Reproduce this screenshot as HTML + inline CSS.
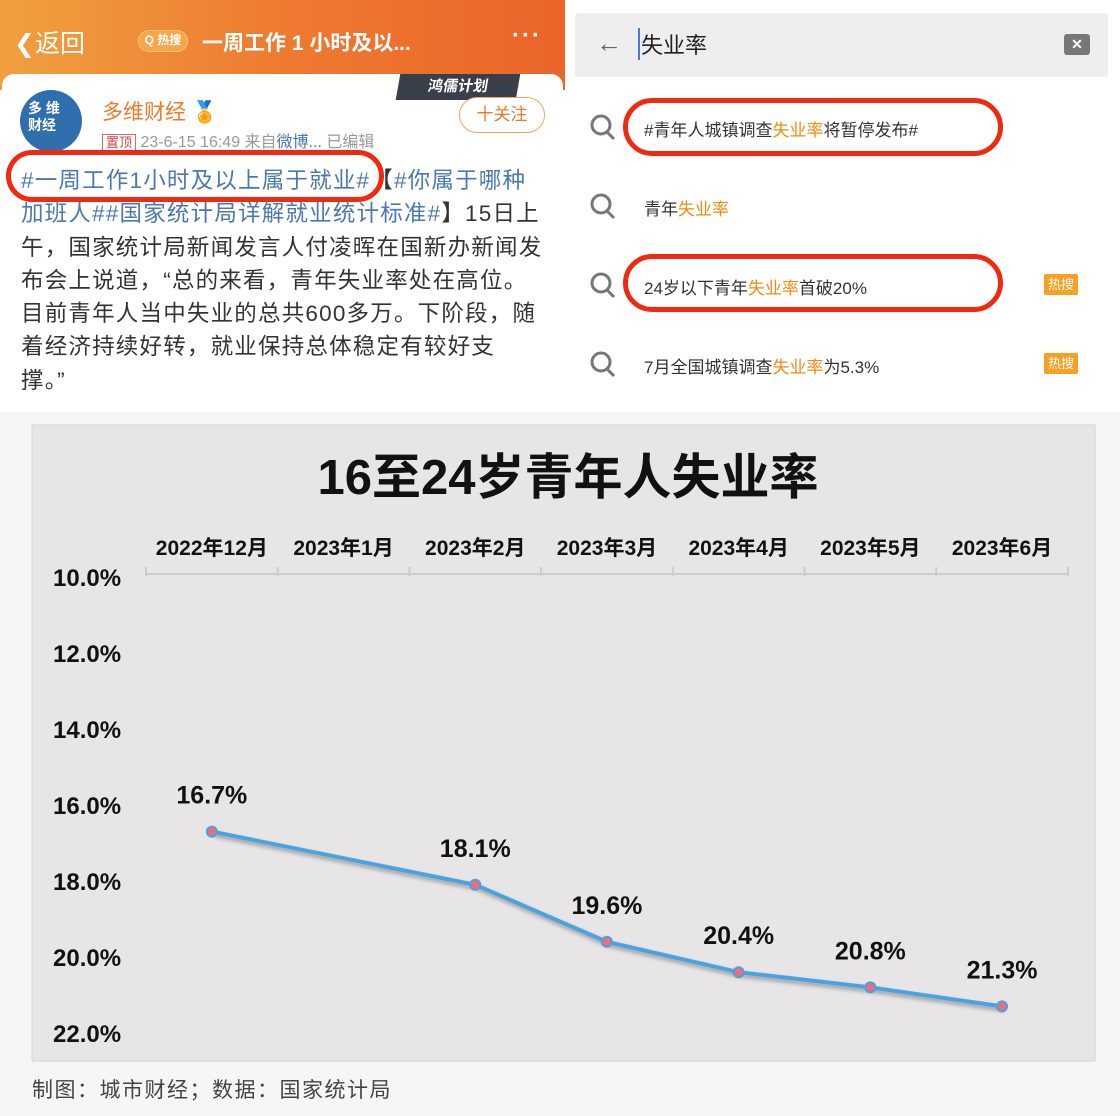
<!DOCTYPE html>
<html><head><meta charset="utf-8">
<style>
*{margin:0;padding:0;box-sizing:border-box}
body{width:1120px;height:1116px;background:#fff;position:relative;overflow:hidden;font-family:"Liberation Sans","Noto Sans CJK SC",sans-serif}
.abs{position:absolute}
</style></head><body>
<!-- left weibo panel -->
<div class="abs" style="left:0;top:0;width:565px;height:410px;background:#fff">
  <div class="abs" style="left:0;top:0;width:565px;height:90px;background:linear-gradient(90deg,#f0a040,#ee7a30 50%,#eb6428)"></div>
  <div class="abs" style="left:14px;top:24px;color:#fff;font-size:25px">❮返回</div>
  <div class="abs" style="left:138px;top:30px;width:50px;height:22px;border:1.5px solid #f7c57a;border-radius:11px;background:#f6a54a;color:#fff;font-size:12px;line-height:19px;text-align:center;font-weight:bold">Q 热搜</div>
  <div class="abs" style="left:202px;top:27px;color:#fff;font-size:21px;font-weight:bold">一周工作 1 小时及以...</div>
  <div class="abs" style="left:512px;top:22px;color:#fff;font-size:24px;font-weight:bold;letter-spacing:2px">···</div>
  <div class="abs" style="left:2px;top:74px;width:561px;height:340px;background:#fff;border-radius:12px"></div>
  <div class="abs" style="left:20px;top:90px;width:62px;height:62px;border-radius:50%;background:#2f6fad;color:#fff;font-size:14px;font-weight:bold;padding:10px 0 0 8px;line-height:17px">多 维<br>财经</div>
  <div class="abs" style="left:102px;top:96px;color:#f07a28;font-size:21px">多维财经 <span style="color:#e9a230">🏅</span></div>
  <div class="abs" style="left:398px;top:74px;width:120px;height:26px;background:#3a3f4c;transform:skew(-10deg);color:#fff;font-size:15px;font-weight:bold;text-align:center;line-height:26px">鸿儒计划</div>
  <div class="abs" style="left:459px;top:97px;width:86px;height:36px;border:1.5px solid #f3a55c;border-radius:18px;color:#f07a28;font-size:17px;text-align:center;line-height:33px;background:#fff">十关注</div>
  <div class="abs" style="left:102px;top:128px;color:#999;font-size:16px"><span style="border:1px solid #d66;color:#c44;font-size:13px;padding:0 3px">置顶</span> 23-6-15 16:49 来自<span style="color:#4a78b0">微博...</span> 已编辑</div>
  <div class="abs" style="left:21px;top:164px;color:#333;font-size:22.5px;letter-spacing:1.2px;line-height:33.3px;white-space:nowrap"><span style="color:#4a78b0">#一周工作1小时及以上属于就业#</span>【<span style="color:#4a78b0">#你属于哪种<br>加班人##国家统计局详解就业统计标准#</span>】15日上<br>午，国家统计局新闻发言人付凌晖在国新办新闻发<br>布会上说道，“总的来看，青年失业率处在高位。<br>目前青年人当中失业的总共600多万。下阶段，随<br>着经济持续好转，就业保持总体稳定有较好支<br>撑。”</div>
  <div class="abs" style="left:6px;top:150px;width:378px;height:52px;border:5px solid #f02a10;border-radius:26px"></div>
</div>
<!-- right search panel -->
<div class="abs" style="left:570px;top:0;width:550px;height:410px;background:#fff">
  <div class="abs" style="left:5px;top:13px;width:533px;height:64px;background:#eeeeee;border-radius:3px"></div>
  <div class="abs" style="left:26px;top:28px;color:#666;font-size:26px">←</div>
  <div class="abs" style="left:68px;top:28px;color:#222;font-size:22px;border-left:2px solid #4a78d0;padding-left:1px">失业率</div>
  <div class="abs" style="left:494px;top:34px;width:26px;height:21px;background:#777;border-radius:3px;color:#fff;font-size:14px;text-align:center;line-height:21px;font-weight:bold">✕</div>
  <div class="abs" style="left:74px;top:116px;font-size:17px;color:#333">#青年人城镇调查<span style="color:#f08a10">失业率</span>将暂停发布#</div>
  <div class="abs" style="left:74px;top:195px;font-size:17px;color:#333">青年<span style="color:#f08a10">失业率</span></div>
  <div class="abs" style="left:74px;top:274px;font-size:17px;color:#333">24岁以下青年<span style="color:#f08a10">失业率</span>首破20%</div>
  <div class="abs" style="left:74px;top:353px;font-size:17px;color:#333">7月全国城镇调查<span style="color:#f08a10">失业率</span>为5.3%</div>
  <div class="abs" style="left:474px;top:274px;width:34px;height:21px;background:#f6a024;color:#fff;font-size:13px;text-align:center;line-height:21px;border-radius:2px">热搜</div>
  <div class="abs" style="left:474px;top:353px;width:34px;height:21px;background:#f6a024;color:#fff;font-size:13px;text-align:center;line-height:21px;border-radius:2px">热搜</div>
  <div class="abs" style="left:53px;top:98px;width:380px;height:58px;border:5px solid #f02a10;border-radius:29px"></div>
  <div class="abs" style="left:53px;top:254px;width:380px;height:58px;border:5px solid #f02a10;border-radius:29px"></div>
  <svg class="abs" style="left:18px;top:110px" width="32" height="270">
    <g fill="none" stroke="#777" stroke-width="3">
      <circle cx="13" cy="15" r="9"/><line x1="19" y1="22" x2="26" y2="29"/>
      <circle cx="13" cy="94" r="9"/><line x1="19" y1="101" x2="26" y2="108"/>
      <circle cx="13" cy="173" r="9"/><line x1="19" y1="180" x2="26" y2="187"/>
      <circle cx="13" cy="252" r="9"/><line x1="19" y1="259" x2="26" y2="266"/>
    </g>
  </svg>
</div>
<!-- chart -->
<div class="abs" style="left:0;top:412px;width:1120px;height:704px;background:#f6f6f6"></div>
<svg class="abs" style="left:0;top:0" width="1120" height="1116" id="chart">
  <defs><filter id="sh" x="-10%" y="-10%" width="120%" height="140%"><feDropShadow dx="2" dy="3" stdDeviation="2" flood-color="#000" flood-opacity="0.35"/></filter></defs>
  <rect x="32" y="425" width="1063" height="636" fill="#e7e5e5" stroke="#d4d4d4"/>
  <text x="568" y="494" text-anchor="middle" font-size="49" font-weight="bold" fill="#111" font-family="Liberation Sans, Noto Sans CJK SC, sans-serif">16至24岁青年人失业率</text>
  <g id="g"></g>
</svg>
<div class="abs" style="left:32px;top:1074px;font-size:21px;color:#444;letter-spacing:1.5px">制图：城市财经；数据：国家统计局</div>
<script>
const categories=["2022年12月","2023年1月","2023年2月","2023年3月","2023年4月","2023年5月","2023年6月"];
const rates=[16.7,null,18.1,19.6,20.4,20.8,21.3];
const yTicks=[10,12,14,16,18,20,22];
const NS="http://www.w3.org/2000/svg";
const g=document.getElementById('g');
const x0=146,step=131.7,yTop=577,yPer=38;
const xs=i=>x0+step*(i+0.5);
const ys=v=>yTop+(v-10)*yPer;
function mk(t,a){const e=document.createElementNS(NS,t);for(const k in a)e.setAttribute(k,a[k]);g.appendChild(e);return e;}
const ff="Liberation Sans, Noto Sans CJK SC, sans-serif";
let ax=mk('line',{x1:x0,x2:x0+step*categories.length,y1:574,y2:574,stroke:'#ccc','stroke-width':2});


for(let i=0;i<=categories.length;i++){const t=mk('line',{x1:x0+step*i,x2:x0+step*i,y1:567,y2:576,stroke:'#ccc','stroke-width':2});

}
categories.forEach((c,i)=>{const t=mk('text',{x:xs(i),y:555,'text-anchor':'middle','font-size':21,'font-weight':'bold',fill:'#111','font-family':ff});t.textContent=c;

});
yTicks.forEach(v=>{const t=mk('text',{x:53,y:ys(v)+9,'font-size':24,'font-weight':'bold',fill:'#111','font-family':ff});t.textContent=v.toFixed(1)+'%';

});
const pts=rates.map((v,i)=>v==null?null:[xs(i),ys(v)]).filter(p=>p);
const ln=mk('polyline',{points:pts.map(p=>p.join(',')).join(' '),fill:'none',stroke:'#4aa3e0','stroke-width':4,filter:'url(#sh)'});


rates.forEach((v,i)=>{if(v==null)return;
const c=mk('circle',{cx:xs(i),cy:ys(v),r:5,fill:'#f06a7a',stroke:'#4aa3e0','stroke-width':2});


const t=mk('text',{x:xs(i),y:ys(v)-28,'text-anchor':'middle','font-size':25,'font-weight':'bold',fill:'#111','font-family':ff});t.textContent=v.toFixed(1)+'%';

});
</script>
</body></html>
